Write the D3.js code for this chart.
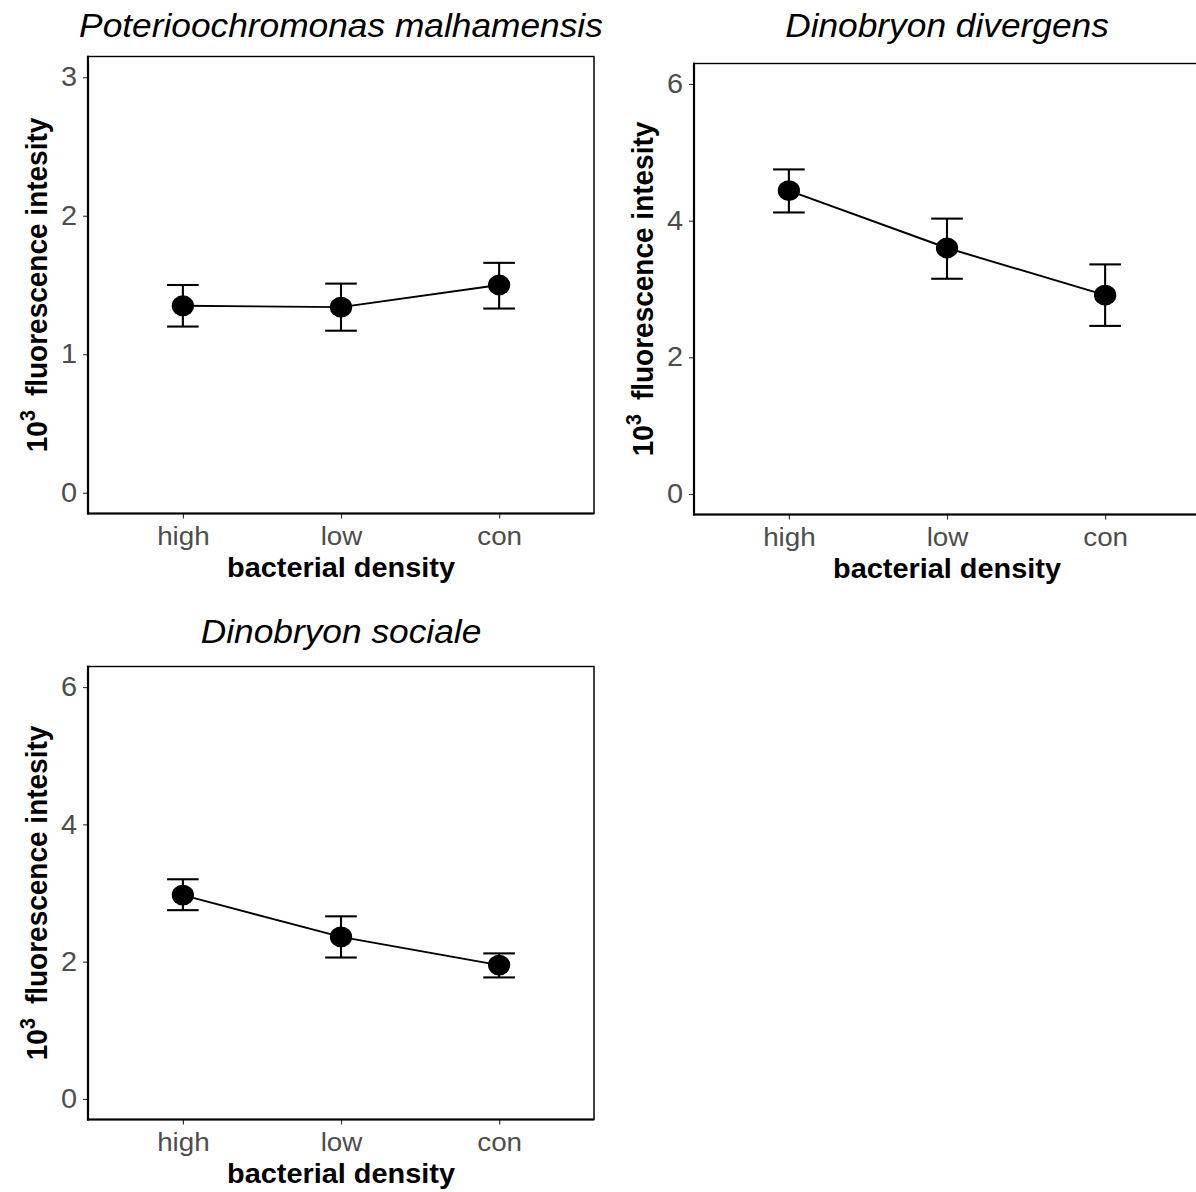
<!DOCTYPE html>
<html>
<head>
<meta charset="utf-8">
<script src="https://cdn.jsdelivr.net/npm/d3@7"></script>
<style>
  html, body { margin: 0; padding: 0; background: #ffffff; }
  svg { display: block; }
  text { font-family: "Liberation Sans", Arial, Helvetica, sans-serif; }
</style>
</head>
<body>
<svg id="chart" width="1196" height="1192"></svg>
<script>
// Bacterial density treatments (x categories)
const categories = ["high", "low", "con"];

// Panel titles (species)
const speciesNames = ["Poterioochromonas malhamensis", "Dinobryon divergens", "Dinobryon sociale"];

// Mean fluorescence intensity (10^3) with error bar bounds
const malhamensisMean  = [1.35, 1.34, 1.50];
const malhamensisLower = [1.20, 1.17, 1.33];
const malhamensisUpper = [1.50, 1.51, 1.66];

const divergensMean  = [4.44, 3.60, 2.91];
const divergensLower = [4.12, 3.15, 2.46];
const divergensUpper = [4.75, 4.03, 3.36];

const socialeMean  = [2.97, 2.36, 1.95];
const socialeLower = [2.75, 2.06, 1.77];
const socialeUpper = [3.20, 2.66, 2.12];

// Y-axis limits and tick labels
const malhamensisLimits = [0, 3];
const malhamensisTicks  = [0, 1, 2, 3];
const dinobryonLimits   = [0, 6];
const dinobryonTicks    = [0, 2, 4, 6];

const xTitle = "bacterial density";

// Figure is drawn slightly wider than tall in its glyphs and marks
const SX = 1.07;
const FONT = '"Liberation Sans", Arial, Helvetica, sans-serif';

const panels = [
  { title: speciesNames[0], mean: malhamensisMean, lower: malhamensisLower, upper: malhamensisUpper,
    limits: malhamensisLimits, ticks: malhamensisTicks,
    box: { left: 88, right: 594, top: 56.5, bottom: 513.5 }, titleY: 37 },
  { title: speciesNames[1], mean: divergensMean, lower: divergensLower, upper: divergensUpper,
    limits: dinobryonLimits, ticks: dinobryonTicks,
    box: { left: 694, right: 1200, top: 63.5, bottom: 514.5 }, titleY: 37 },
  { title: speciesNames[2], mean: socialeMean, lower: socialeLower, upper: socialeUpper,
    limits: dinobryonLimits, ticks: dinobryonTicks,
    box: { left: 88, right: 594, top: 666.5, bottom: 1119.5 }, titleY: 643 }
];

const svg = d3.select("#chart");
const root = svg.append("g").attr("transform", `scale(${SX},1)`);

panels.forEach(p => {
  const L = p.box.left / SX, R = p.box.right / SX, T = p.box.top, B = p.box.bottom;
  const g = root.append("g");

  const span = p.limits[1] - p.limits[0];
  const y = d3.scaleLinear()
    .domain([p.limits[0] - 0.05 * span, p.limits[1] + 0.05 * span])
    .range([B, T]);
  const x = d3.scalePoint().domain(categories).range([L, R]).padding(0.6);

  const rows = categories.map((c, i) => ({ cat: c, mean: p.mean[i], lo: p.lower[i], hi: p.upper[i] }));

  // panel frame
  g.append("rect")
    .attr("x", L).attr("y", T).attr("width", R - L).attr("height", B - T)
    .attr("fill", "none").attr("stroke", "#000").attr("stroke-width", 1.4);

  // y axis
  const yAxis = g.append("g").attr("transform", `translate(${L},0)`)
    .call(d3.axisLeft(y).tickValues(p.ticks).tickFormat(d3.format("d")).tickSize(5 / SX).tickPadding(6 / SX));
  yAxis.select(".domain").remove();
  yAxis.selectAll(".tick line").attr("stroke", "#333333").attr("stroke-width", 1.1);
  yAxis.selectAll(".tick text").attr("fill", "#4d4d4d").style("font-size", "27px").style("font-family", FONT);

  // x axis
  const xAxis = g.append("g").attr("transform", `translate(0,${B})`)
    .call(d3.axisBottom(x).tickSize(5).tickPadding(8));
  xAxis.select(".domain").remove();
  xAxis.selectAll(".tick line").attr("stroke", "#333333").attr("stroke-width", 1.1);
  xAxis.selectAll(".tick text").attr("fill", "#4d4d4d").style("font-size", "26px").style("font-family", FONT);

  // axis lines (left + bottom)
  g.append("line").attr("x1", L).attr("x2", L).attr("y1", T - 0.7).attr("y2", B + 1)
    .attr("stroke", "#000").attr("stroke-width", 2.2 / SX);
  g.append("line").attr("x1", L - 1).attr("x2", R).attr("y1", B).attr("y2", B)
    .attr("stroke", "#000").attr("stroke-width", 2.2);

  // connecting line
  g.append("path").datum(rows)
    .attr("fill", "none").attr("stroke", "#000").attr("stroke-width", 1.9)
    .attr("d", d3.line().x(d => x(d.cat)).y(d => y(d.mean)));

  // error bars (cap width 0.2 category units)
  const capHalf = x.step() * 0.1;
  const eb = g.append("g").attr("stroke", "#000").attr("stroke-width", 2.1);
  rows.forEach(d => {
    eb.append("line").attr("x1", x(d.cat)).attr("x2", x(d.cat)).attr("y1", y(d.lo)).attr("y2", y(d.hi))
      .attr("stroke-width", 2.1 / SX);
    eb.append("line").attr("x1", x(d.cat) - capHalf).attr("x2", x(d.cat) + capHalf).attr("y1", y(d.hi)).attr("y2", y(d.hi));
    eb.append("line").attr("x1", x(d.cat) - capHalf).attr("x2", x(d.cat) + capHalf).attr("y1", y(d.lo)).attr("y2", y(d.lo));
  });

  // points
  g.selectAll("circle.pt").data(rows).join("circle")
    .attr("class", "pt")
    .attr("cx", d => x(d.cat)).attr("cy", d => y(d.mean)).attr("r", 10.4)
    .attr("fill", "#000");

  // panel title
  g.append("text")
    .attr("x", (L + R) / 2).attr("y", p.titleY)
    .attr("text-anchor", "middle")
    .style("font-size", "33px").style("font-style", "italic").attr("fill", "#000")
    .text(p.title);

  // x-axis title
  g.append("text")
    .attr("x", (L + R) / 2).attr("y", B + 64)
    .attr("text-anchor", "middle")
    .style("font-size", "27px").style("font-weight", "bold").attr("fill", "#000")
    .text(xTitle);

  // y-axis title: 10^3 fluorescence intesity
  const yt = g.append("text")
    .attr("transform", `translate(${(p.box.left - 41) / SX},${(T + B) / 2}) rotate(-90)`)
    .attr("text-anchor", "middle")
    .style("font-size", "28px").style("font-weight", "bold").attr("fill", "#000");
  yt.append("tspan").text("10");
  yt.append("tspan").attr("dy", -11).style("font-size", "20px").text("3");
  yt.append("tspan").attr("dy", 11).text("\u2002fluorescence intesity");
});
</script>
</body>
</html>
